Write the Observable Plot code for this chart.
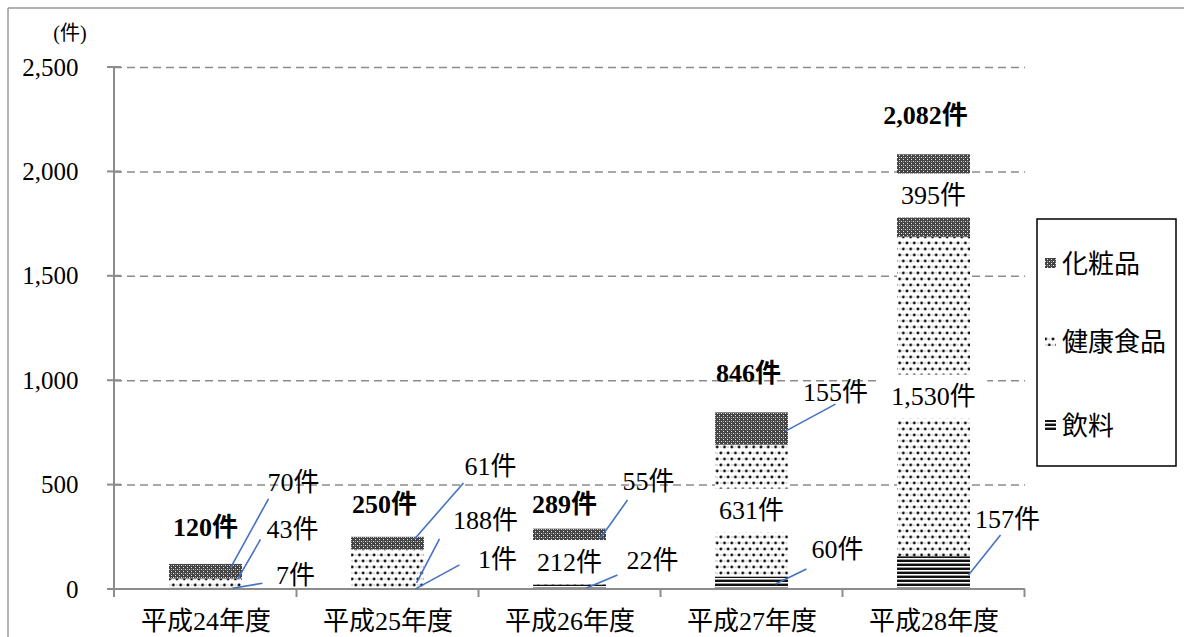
<!DOCTYPE html>
<html><head><meta charset="utf-8">
<script src="https://cdn.jsdelivr.net/npm/d3@7"></script>
<script src="https://cdn.jsdelivr.net/npm/@observablehq/plot@0.6"></script>
<style>
html,body{margin:0;padding:0;background:#fff;}
#chart{width:1184px;height:637px;overflow:hidden;}
</style></head>
<body><div id="chart"></div>
<script>
// ---- data ----
const categories = ["平成24年度","平成25年度","平成26年度","平成27年度","平成28年度"];
const seriesNames = ["飲料","健康食品","化粧品"];          // stacking order, bottom to top
const legendOrder = ["化粧品","健康食品","飲料"];
const drinks      = [7, 1, 22, 60, 157];
const healthFoods = [43, 188, 212, 631, 1530];
const cosmetics   = [70, 61, 55, 155, 395];
const totals      = [120, 250, 289, 846, 2082];
const yTicks      = [0, 500, 1000, 1500, 2000, 2500];
const unitLabel   = "(件)";
const suffix      = "件";

// ---- build table ----
const valuesBySeries = {"飲料": drinks, "健康食品": healthFoods, "化粧品": cosmetics};
const rows = seriesNames.flatMap(s => categories.map((c, i) => ({category: c, series: s, value: valuesBySeries[s][i]})));
const fillMap = {"飲料": "url(#pat-drink)", "健康食品": "url(#pat-health)", "化粧品": "url(#pat-cosme)"};
const fmt = d3.format(",");
const FONT = "'Liberation Serif','Times New Roman','DejaVu Serif','Noto Sans CJK JP',serif";

// segment extents (cumulative)
const segs = {};
seriesNames.forEach((s, k) => {
  segs[s] = categories.map((c, i) => {
    const lo = seriesNames.slice(0, k).reduce((a, t) => a + valuesBySeries[t][i], 0);
    return {lo, hi: lo + valuesBySeries[s][i]};
  });
});

// ---- label layout (pixel offsets, styling only) ----
// [category index, series, fraction along segment, anchor dx from band centre, end dx, end dy, text dx, text dy]
const callouts = [
  [0, "化粧品",   0.73, 25, 38, -69, 25, -16],
  [0, "健康食品", 0.9,  32, 23, -40, 32, -10],
  [0, "飲料",     0.5,  27, 30,  -5, 33,  -8],
  [1, "化粧品",   0.83, 27, 49, -56, 27, -16],
  [1, "健康食品", 0.15, 29, 23, -44, 46, -18],
  [1, "飲料",     0.5,  28, 44, -24, 38,  -5],
  [2, "化粧品",   0.18, 31, 27, -38, 21, -19],
  [2, "飲料",     0.2,  17, 31, -13, 35, -15],
  [3, "化粧品",   0.42, 34, 50, -27,  0, -12],
  [3, "飲料",     0.4,  24, 31, -15, 31, -19],
  [4, "飲料",     0.43, 35, 32, -40,  7, -15]
];
const insideLabels = [[2, "健康食品"], [3, "健康食品"], [4, "健康食品"], [4, "化粧品"]];
const totalDy = [-36, -32, -24, -39, -39];
const totalDx = [0, -3, -5, -3, -8];

function defsMark() {
  const g = d3.create("svg:g");
  const defs = g.append("defs");
  const p1 = defs.append("pattern").attr("id", "pat-cosme").attr("patternUnits", "userSpaceOnUse").attr("width", 4).attr("height", 4);
  p1.append("rect").attr("width", 4).attr("height", 4).attr("fill", "#444");
  p1.append("rect").attr("x", 1).attr("y", 1).attr("width", 1).attr("height", 1).attr("fill", "#e8e8e8");
  p1.append("rect").attr("x", 3).attr("y", 3).attr("width", 1).attr("height", 1).attr("fill", "#e8e8e8");
  p1.append("rect").attr("x", 3).attr("y", 1).attr("width", 1).attr("height", 1).attr("fill", "#999");
  const p2 = defs.append("pattern").attr("id", "pat-health").attr("patternUnits", "userSpaceOnUse").attr("width", 7.3).attr("height", 12);
  p2.append("rect").attr("width", 7.3).attr("height", 12).attr("fill", "#fff");
  p2.append("circle").attr("cx", 1.8).attr("cy", 3).attr("r", 1.45).attr("fill", "#111");
  p2.append("circle").attr("cx", 5.45).attr("cy", 9).attr("r", 1.45).attr("fill", "#111");
  p2.append("circle").attr("cx", 5.45).attr("cy", 3).attr("r", 0.7).attr("fill", "#aaa");
  p2.append("circle").attr("cx", 1.8).attr("cy", 9).attr("r", 0.7).attr("fill", "#aaa");
  const p3 = defs.append("pattern").attr("id", "pat-drink").attr("patternUnits", "userSpaceOnUse").attr("width", 4).attr("height", 4);
  p3.append("rect").attr("width", 4).attr("height", 4).attr("fill", "#fff");
  p3.append("rect").attr("y", 0).attr("width", 4).attr("height", 2).attr("fill", "#111");
  p3.append("rect").attr("y", 3).attr("width", 4).attr("height", 1).attr("fill", "#999");
  return g.node();
}

function annotations(index, scales, values, dimensions) {
  const x = scales.x, y = scales.y;
  const bw = x.bandwidth(), step = x.step();
  const cx = i => x(categories[i]) + bw / 2;
  const {width, height, marginLeft, marginRight} = dimensions;
  const x0 = marginLeft, x1 = width - marginRight, yb = y(0);
  const g = d3.create("svg:g").attr("font-family", FONT).attr("text-anchor", "start").attr("fill", "#000");
  const axisColor = "#8c8c8c";

  // picture frame
  g.append("line").attr("x1", 8).attr("x2", 8).attr("y1", 8).attr("y2", height).attr("stroke", "#999").attr("stroke-width", 1.5);
  g.append("line").attr("x1", 8).attr("x2", width).attr("y1", 8).attr("y2", 8).attr("stroke", "#999").attr("stroke-width", 1.5);

  // axes
  g.append("line").attr("x1", x0).attr("x2", x0).attr("y1", y(yTicks[yTicks.length - 1])).attr("y2", yb + 8)
    .attr("stroke", axisColor).attr("stroke-width", 2);
  yTicks.forEach(t => g.append("line").attr("x1", x0 - 7).attr("x2", x0 + 7).attr("y1", y(t)).attr("y2", y(t))
    .attr("stroke", axisColor).attr("stroke-width", 2));
  g.append("line").attr("x1", x0 - 7).attr("x2", x1).attr("y1", yb).attr("y2", yb).attr("stroke", axisColor).attr("stroke-width", 2);
  for (let i = 1; i <= categories.length; i++) {
    const xb = cx(i - 1) + step / 2;
    g.append("line").attr("x1", xb).attr("x2", xb).attr("y1", yb).attr("y2", yb + 8).attr("stroke", axisColor).attr("stroke-width", 2);
  }

  // unit label
  g.append("text").attr("x", 70).attr("y", 33).attr("text-anchor", "middle").attr("dominant-baseline", "central")
    .attr("font-size", 20).text(unitLabel);

  // inside labels with white background
  insideLabels.forEach(([i, s]) => {
    const sg = segs[s][i];
    const v = valuesBySeries[s][i];
    const label = fmt(v) + suffix;
    const yy = y((sg.lo + sg.hi) / 2);
    const est = label.length * 12.5 + 12.5;
    g.append("rect").attr("x", cx(i) - est / 2 - 10).attr("y", yy - 22).attr("width", est + 20).attr("height", 44).attr("fill", "#fff");
    g.append("text").attr("x", cx(i)).attr("y", yy).attr("text-anchor", "middle").attr("dominant-baseline", "central")
      .attr("font-size", 26).text(label);
  });

  // callouts
  callouts.forEach(([i, s, frac, ax, ex, ey, tx, ty]) => {
    const sg = segs[s][i];
    const axp = cx(i) + ax, ayp = y(sg.lo + frac * (sg.hi - sg.lo));
    g.append("line").attr("x1", axp).attr("y1", ayp).attr("x2", axp + ex).attr("y2", ayp + ey)
      .attr("stroke", "#4472C4").attr("stroke-width", 1.6);
    g.append("text").attr("x", axp + ex + tx).attr("y", ayp + ey + ty).attr("text-anchor", "middle").attr("dominant-baseline", "central")
      .attr("font-size", 26).text(fmt(valuesBySeries[s][i]) + suffix);
  });

  // totals
  totals.forEach((t, i) => {
    g.append("text").attr("x", cx(i) + totalDx[i]).attr("y", y(t) + totalDy[i]).attr("text-anchor", "middle").attr("dominant-baseline", "central")
      .attr("font-size", 26).attr("font-weight", "bold").text(fmt(t) + suffix);
  });

  // legend
  const lg = g.append("g");
  lg.append("rect").attr("x", 1037).attr("y", 219).attr("width", 139).attr("height", 247).attr("fill", "#fff").attr("stroke", "#000").attr("stroke-width", 1.5);
  legendOrder.forEach((s, k) => {
    const cy = [264, 342, 426][k];
    lg.append("rect").attr("x", 1045).attr("y", cy - 6).attr("width", 11).attr("height", 10).attr("fill", fillMap[s]);
    lg.append("text").attr("x", 1062).attr("y", cy).attr("text-anchor", "start").attr("dominant-baseline", "central")
      .attr("font-size", 26).text(s);
  });
  return g.node();
}

const chart = Plot.plot({
  width: 1184, height: 637,
  marginLeft: 114, marginRight: 159, marginTop: 67, marginBottom: 48,
  x: {domain: categories, paddingInner: 0.6, paddingOuter: 0.3, label: null},
  y: {domain: [0, 2500], label: null},
  color: {type: "identity"},
  style: {fontFamily: FONT, background: "#fff", color: "#000", overflow: "visible"},
  marks: [
    defsMark,
    Plot.ruleY(yTicks.filter(d => d > 0), {stroke: "#8c8c8c", strokeWidth: 1.5, strokeDasharray: "8,5"}),
    Plot.barY(rows, {x: "category", y: "value", z: "series", fill: d => fillMap[d.series]}),
    Plot.axisY({ticks: yTicks, tickFormat: fmt, tickSize: 0, tickPadding: 36, fontSize: 25}),
    Plot.axisX({tickSize: 0, tickPadding: 22, fontSize: 26}),
    annotations
  ]
});
document.getElementById("chart").append(chart);
</script>
</body></html>
